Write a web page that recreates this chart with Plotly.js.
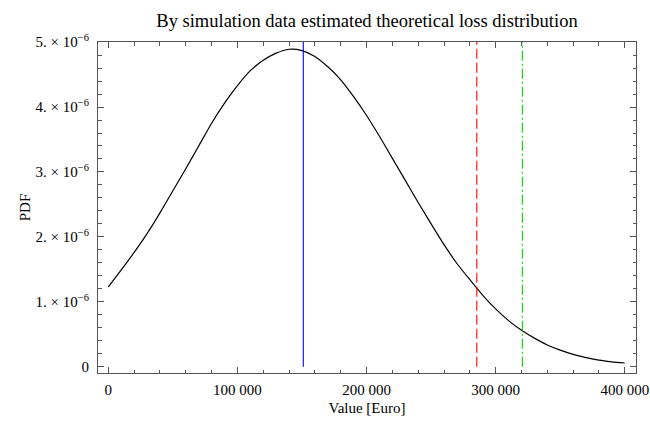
<!DOCTYPE html>
<html>
<head>
<meta charset="utf-8">
<script src="https://cdn.plot.ly/plotly-3.0.1.min.js"></script>
<style>
  html, body { margin: 0; padding: 0; background: #fff; }
  #chart { width: 650px; height: 424px; }
</style>
</head>
<body>
<div id="chart"></div>
<script>
// Curve (Value in Euro, PDF)
const lossValues = [0, 10000, 20000, 30000, 40000, 50000, 60000, 70000, 80000, 90000,
  100000, 110000, 120000, 130000, 140000, 150000, 160000, 170000, 180000, 190000,
  200000, 210000, 220000, 230000, 240000, 250000, 260000, 270000, 280000, 290000,
  300000, 310000, 320000, 330000, 340000, 350000, 360000, 370000, 380000, 390000, 400000];
const pdfValues = [1.23e-6, 1.49e-6, 1.76e-6, 2.05e-6, 2.37e-6, 2.71e-6, 3.05e-6, 3.40e-6, 3.75e-6, 4.06e-6,
  4.33e-6, 4.56e-6, 4.72e-6, 4.83e-6, 4.89e-6, 4.87e-6, 4.78e-6, 4.62e-6, 4.42e-6, 4.16e-6,
  3.87e-6, 3.55e-6, 3.21e-6, 2.87e-6, 2.53e-6, 2.20e-6, 1.88e-6, 1.59e-6, 1.34e-6, 1.10e-6,
  0.89e-6, 0.71e-6, 0.56e-6, 0.44e-6, 0.335e-6, 0.255e-6, 0.19e-6, 0.14e-6, 0.10e-6, 0.075e-6, 0.057e-6];

// Vertical marker lines
const markerNames = ["mean", "VaR", "ES"];
const markerX = [151000, 285400, 320700];

// Ticks
const xTickVals = [0, 100000, 200000, 300000, 400000];
const xTickText = ["0", "100 000", "200 000", "300 000", "400 000"];
const yTickVals = [0, 1e-6, 2e-6, 3e-6, 4e-6, 5e-6];
const yTickText = ["0", "1. \u00d7 10<sup>\u22126</sup>", "2. \u00d7 10<sup>\u22126</sup>",
  "3. \u00d7 10<sup>\u22126</sup>", "4. \u00d7 10<sup>\u22126</sup>", "5. \u00d7 10<sup>\u22126</sup>"];

const markerStyles = [
  {color: "#0000ff", width: 1.1, dash: "solid"},
  {color: "#ff0000", width: 1.1, dash: "10px,4px"},
  {color: "#00dd00", width: 1.1, dash: "10px,3px,2px,3px"}
];

const traces = [{
  x: lossValues, y: pdfValues, type: "scatter", mode: "lines",
  line: {color: "#000000", width: 1.2, shape: "spline", smoothing: 0.6},
  hoverinfo: "skip", showlegend: false
}];
markerX.forEach((v, i) => {
  traces.push({
    x: [v, v], y: [0, 5.1e-6], type: "scatter", mode: "lines",
    name: markerNames[i], line: markerStyles[i], showlegend: false, hoverinfo: "skip"
  });
});

const fontFam = "Liberation Serif, Times New Roman, serif";
const axisCommon = {
  showgrid: false, zeroline: false, showline: true, linecolor: "#555555", linewidth: 1,
  mirror: "ticks", ticks: "inside", ticklen: 6, tickcolor: "#555555", tickwidth: 1,
  tickfont: {family: fontFam, size: 15, color: "#000"}
};

const layout = {
  width: 650, height: 424,
  margin: {l: 98, r: 14, t: 42, b: 51},
  paper_bgcolor: "#ffffff", plot_bgcolor: "#ffffff",
  font: {family: fontFam, color: "#000"},
  title: {text: "By simulation data estimated theoretical loss distribution",
          font: {family: fontFam, size: 18.5, color: "#000"},
          x: 0.5646, xanchor: "center", y: 0.952, yanchor: "middle"},
  xaxis: Object.assign({}, axisCommon, {
    automargin: false,
    range: [-8000, 408700], tickmode: "array", tickvals: xTickVals, ticktext: xTickText,
    ticklabelstandoff: 3,
    minor: {tickmode: "linear", tick0: 0, dtick: 20000, ticks: "inside", ticklen: 3.5, tickcolor: "#555555"},
    title: {text: "Value [Euro]", font: {family: fontFam, size: 15}, standoff: 5}
  }),
  yaxis: Object.assign({}, axisCommon, {
    automargin: true,
    range: [-0.097e-6, 5.002e-6], tickmode: "array", tickvals: yTickVals, ticktext: yTickText,
    ticklabelstandoff: 5,
    minor: {tickmode: "linear", tick0: 0, dtick: 2e-7, ticks: "inside", ticklen: 3.5, tickcolor: "#555555"},
    title: {text: "PDF", font: {family: fontFam, size: 15}, standoff: 1}
  })
};

Plotly.newPlot("chart", traces, layout, {displayModeBar: false, staticPlot: true});
</script>
</body>
</html>
